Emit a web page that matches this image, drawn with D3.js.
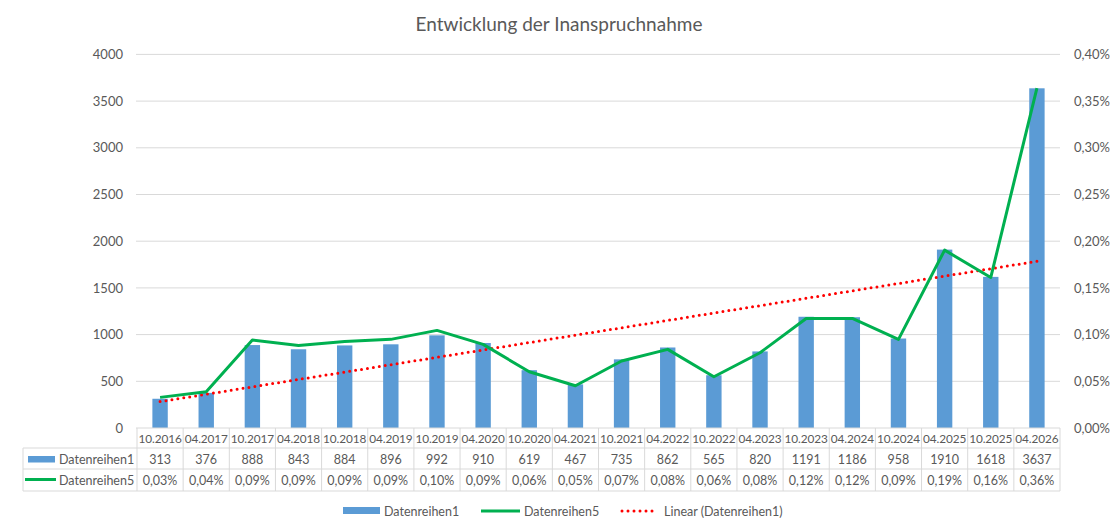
<!DOCTYPE html>
<html>
<head>
<meta charset="utf-8">
<script src="https://cdn.jsdelivr.net/npm/d3@7/dist/d3.min.js"></script>
<style>
  html, body { margin: 0; padding: 0; background: #fff; }
  svg { display: block; font-family: Lato, "Open Sans", sans-serif; }
</style>
</head>
<body>
<svg id="chart" width="1120" height="529"></svg>
<script>
// ---- Data ----
const categories = ["10.2016","04.2017","10.2017","04.2018","10.2018","04.2019","10.2019","04.2020","10.2020","04.2021","10.2021","04.2022","10.2022","04.2023","10.2023","04.2024","10.2024","04.2025","10.2025","04.2026"];
const series1 = [313,376,888,843,884,896,992,910,619,467,735,862,565,820,1191,1186,958,1910,1618,3637];
// Datenreihen5 (fraction)
const series5 = [0.000328,0.000388,0.000941,0.000884,0.000927,0.000949,0.001045,0.000895,0.000602,0.000452,0.000717,0.000842,0.000549,0.000806,0.001173,0.001173,0.000949,0.001904,0.001612,0.003640];
const series5Labels = ["0,03%","0,04%","0,09%","0,09%","0,09%","0,09%","0,10%","0,09%","0,06%","0,05%","0,07%","0,08%","0,06%","0,08%","0,12%","0,12%","0,09%","0,19%","0,16%","0,36%"];
const leftTicks = [0,500,1000,1500,2000,2500,3000,3500,4000];
const rightTicks = [0,0.0005,0.001,0.0015,0.002,0.0025,0.003,0.0035,0.004];
const seriesNames = ["Datenreihen1","Datenreihen5","Linear (Datenreihen1)"];
const title = "Entwicklung der Inanspruchnahme";

// ---- Layout ----
const W = 1120, H = 529;
const plotL = 137, plotR = 1060, plotT = 54.4, plotB = 428;
const textCol = "#595959", gridCol = "#d9d9d9";
const blue = "#5b9bd5", green = "#00b050", red = "#ff0000";

const svg = d3.select("#chart");
svg.append("rect").attr("x",0).attr("y",0).attr("width",W).attr("height",H).attr("fill","#fff");

const x = d3.scaleBand().domain(categories).range([plotL, plotR]).paddingInner(2/3).paddingOuter(1/3);
const step = x.step();
const cx = c => x(c) + x.bandwidth()/2;
const yL = d3.scaleLinear().domain([0,4000]).range([plotB, plotT]);
const yR = d3.scaleLinear().domain([0,0.004]).range([plotB, plotT]);

// Title
svg.append("text").attr("x",559).attr("y",31).attr("text-anchor","middle")
  .attr("fill",textCol).attr("font-size",19).text(title);

// Gridlines
svg.append("g").selectAll("line").data(leftTicks.slice(1)).join("line")
  .attr("x1",plotL-1).attr("x2",plotR).attr("y1",d=>yL(d)).attr("y2",d=>yL(d))
  .attr("stroke",gridCol).attr("stroke-width",1);

// Left axis
const leftAxis = d3.axisLeft(yL).tickValues(leftTicks).tickSize(0).tickPadding(14).tickFormat(d3.format("d"));
const gL = svg.append("g").attr("transform",`translate(${plotL},0)`).call(leftAxis);
gL.select(".domain").remove();
gL.selectAll("text").attr("fill",textCol).attr("font-size",13).attr("font-family","Lato, sans-serif");

// Right axis
const pctFmt = d => (d*100).toFixed(2).replace(".",",") + "%";
const rightAxis = d3.axisRight(yR).tickValues(rightTicks).tickSize(0).tickPadding(14).tickFormat(pctFmt);
const gR = svg.append("g").attr("transform",`translate(${plotR},0)`).call(rightAxis);
gR.select(".domain").remove();
gR.selectAll("text").attr("fill",textCol).attr("font-size",13).attr("font-family","Lato, sans-serif");

// Bars
svg.append("g").selectAll("rect").data(series1).join("rect")
  .attr("x",(d,i)=>x(categories[i])).attr("width",x.bandwidth())
  .attr("y",d=>yL(d)).attr("height",d=>plotB-yL(d)).attr("fill",blue);

// Linear trendline (least squares of Datenreihen1)
const n = series1.length;
const xs = d3.range(1,n+1);
const mx = d3.mean(xs), my = d3.mean(series1);
const slope = d3.sum(xs,(v,i)=>(v-mx)*(series1[i]-my)) / d3.sum(xs,v=>(v-mx)*(v-mx));
const icpt = my - slope*mx;
svg.append("line")
  .attr("x1",cx(categories[0])).attr("y1",yL(icpt+slope*1))
  .attr("x2",cx(categories[n-1])).attr("y2",yL(icpt+slope*n))
  .attr("stroke",red).attr("stroke-width",3).attr("stroke-linecap","round")
  .attr("stroke-dasharray","0,6");

// Line series
const line = d3.line().x((d,i)=>cx(categories[i])).y(d=>yR(d));
svg.append("path").datum(series5).attr("d",line).attr("fill","none")
  .attr("stroke",green).attr("stroke-width",3).attr("stroke-linejoin","round");

// ---- Data table ----
const tT = plotB, r1 = 448, r2 = 469, r3 = 491, tL = 23;
const tg = svg.append("g");
[r1,r2,r3].forEach(yy=>{
  tg.append("line").attr("x1",tL).attr("x2",plotR).attr("y1",yy).attr("y2",yy).attr("stroke",gridCol);
});
tg.append("line").attr("x1",plotL-1).attr("x2",plotR).attr("y1",plotB).attr("y2",plotB).attr("stroke",gridCol);
const vx = categories.map(c=>x(c)-step/3).concat([plotR]);
tg.selectAll("line.v").data(vx).join("line").attr("class","v")
  .attr("x1",d=>d).attr("x2",d=>d).attr("y1",tT).attr("y2",r3).attr("stroke",gridCol);
tg.append("line").attr("x1",tL).attr("x2",tL).attr("y1",r1).attr("y2",r3).attr("stroke",gridCol);

const tfs = 12.5;
tg.selectAll("text.cat").data(categories).join("text").attr("class","cat")
  .attr("x",d=>cx(d)).attr("y",443).attr("text-anchor","middle")
  .attr("fill",textCol).attr("font-size",11.8).attr("letter-spacing",-0.1).text(d=>d);
tg.selectAll("text.v1").data(series1).join("text").attr("class","v1")
  .attr("x",(d,i)=>cx(categories[i])).attr("y",463.5).attr("text-anchor","middle")
  .attr("fill",textCol).attr("font-size",tfs).text(d=>d);
tg.selectAll("text.v5").data(series5Labels).join("text").attr("class","v5")
  .attr("x",(d,i)=>cx(categories[i])).attr("y",484.5).attr("text-anchor","middle")
  .attr("fill",textCol).attr("font-size",tfs).text(d=>d);
tg.append("rect").attr("x",28).attr("y",456).attr("width",27).attr("height",6.5).attr("fill",blue);
tg.append("text").attr("x",59).attr("y",463.5).attr("fill",textCol).attr("font-size",tfs).text(seriesNames[0]);
tg.append("line").attr("x1",25).attr("x2",56).attr("y1",479.5).attr("y2",479.5).attr("stroke",green).attr("stroke-width",3);
tg.append("text").attr("x",59).attr("y",484.5).attr("fill",textCol).attr("font-size",tfs).text(seriesNames[1]);

// ---- Legend ----
const lg = svg.append("g");
const ly = 511;
lg.append("rect").attr("x",343).attr("y",507).attr("width",37).attr("height",7).attr("fill",blue);
lg.append("text").attr("x",384).attr("y",ly+4.5).attr("fill",textCol).attr("font-size",tfs).text(seriesNames[0]);
lg.append("line").attr("x1",481).attr("x2",520).attr("y1",ly).attr("y2",ly).attr("stroke",green).attr("stroke-width",3);
lg.append("text").attr("x",524).attr("y",ly+4.5).attr("fill",textCol).attr("font-size",tfs).text(seriesNames[1]);
lg.append("line").attr("x1",622).attr("x2",658).attr("y1",ly).attr("y2",ly).attr("stroke",red).attr("stroke-width",3)
  .attr("stroke-linecap","round").attr("stroke-dasharray","0,6");
lg.append("text").attr("x",664).attr("y",ly+4.5).attr("fill",textCol).attr("font-size",tfs).text(seriesNames[2]);
</script>
</body>
</html>
